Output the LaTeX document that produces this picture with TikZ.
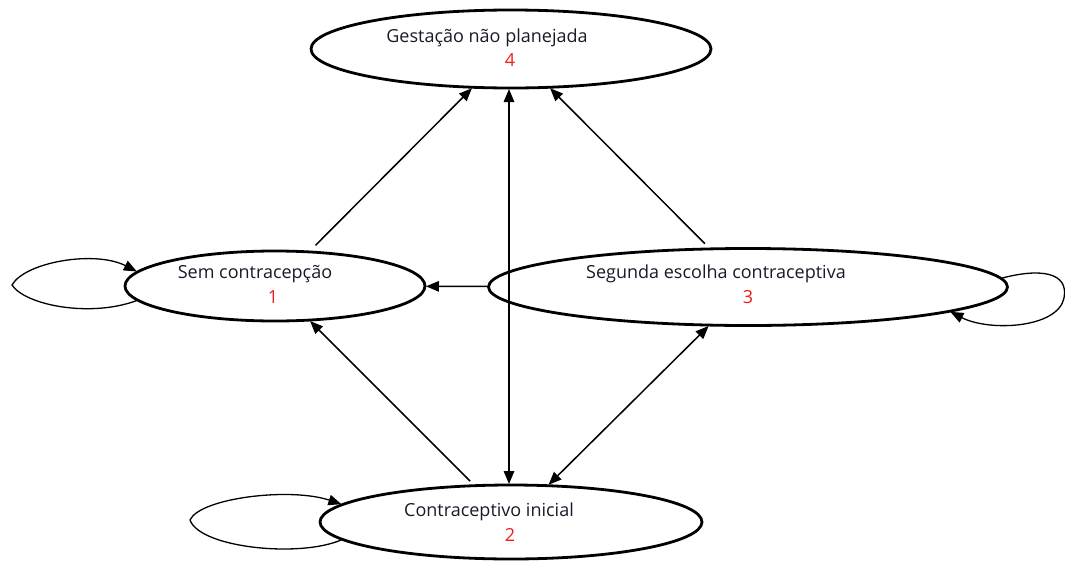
\documentclass[tikz,border=0pt]{standalone}
\usepackage{fontspec}
\setmainfont{Open Sans}
\usetikzlibrary{arrows.meta,shapes.geometric,calc}
\definecolor{txt}{RGB}{25,25,40}
\definecolor{num}{RGB}{240,30,30}
\begin{document}
\begin{tikzpicture}[x=1pt,y=-1pt,
  state/.style={draw=black, ellipse, line width=2.8pt, inner sep=0pt, outer sep=1pt},
  lbl/.style={font=\fontsize{18}{21}\selectfont, text=txt, inner sep=0pt},
  numl/.style={font=\fontsize{18}{21}\selectfont, text=num, inner sep=0pt},
  con/.style={line width=1.5pt, -{Triangle[length=13pt,width=10.5pt]}},
  con2/.style={line width=1.5pt, {Triangle[length=13pt,width=10.5pt]}-{Triangle[length=13pt,width=10.5pt]}},
  selfloop/.style={line width=1.3pt, -{Triangle[length=13pt,width=10.5pt]}}]
\useasboundingbox (0,0) rectangle (1065,565);
\node[state, minimum width=400pt, minimum height=78pt] (n4) at (511,49) {};
\node[state, minimum width=300pt, minimum height=70pt] (n1) at (275,286) {};
\node[state, minimum width=519pt, minimum height=77pt] (n3) at (748,287) {};
\node[state, minimum width=382pt, minimum height=74pt] (n2) at (511,522) {};
% labels
\node[lbl] (t4) at (487,38) {Gestação não planejada};
\node[numl] (m4) at (510,60) {4};
\node[lbl] (t1) at (255,274) {Sem contracepção};
\node[numl] (m1) at (273,297) {1};
\node[lbl] (t3) at (716,274) {Segunda escolha contraceptiva};
\node[numl] (m3) at (748,297) {3};
\node[lbl] (t2) at (489,512) {Contraceptivo inicial};
\node[numl] (m2) at (510,535) {2};
% connectors
\draw[con, shorten <=8pt] (n1) -- (n4);
\draw[con, shorten <=6pt] (n3) -- (n4);
\draw[con] (n3) -- (n1);
\draw[con, shorten <=5pt] (n2) -- (n1);
\draw[con2] (n2) -- (n3);
\draw[con2] ([xshift=-2pt]n2.north) -- ([xshift=-2pt]n4.south);
% self loops
\coordinate (l1) at (12,285);
\draw[selfloop] (n1.186) .. controls (90,318) and (25,305) .. (l1) .. controls (25,262) and (95,250) .. (n1.174);
\coordinate (l3) at (1064,298);
\draw[selfloop] (n3.2) .. controls (1040,268) and (1069,272) .. (l3) .. controls (1058,328) and (990,332) .. (n3.-7);
\coordinate (l2) at (190,520);
\draw[selfloop] (n2.186) .. controls (300,558) and (200,548) .. (l2) .. controls (200,498) and (290,487) .. (n2.174);
\end{tikzpicture}
\end{document}
